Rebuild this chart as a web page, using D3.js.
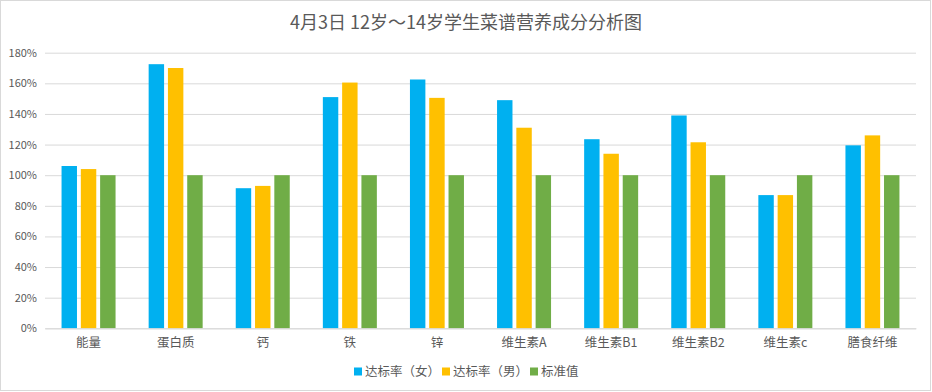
<!DOCTYPE html>
<html><head><meta charset="utf-8">
<script src="https://cdn.jsdelivr.net/npm/d3@7"></script>
<style>body{margin:0;background:#fff}svg{display:block}text{font-family:"Noto Sans CJK SC","Noto Sans",sans-serif}</style>
</head><body><svg id="c" width="932" height="392"></svg>
<script>
const categories = ["能量","蛋白质","钙","铁","锌","维生素A","维生素B1","维生素B2","维生素c","膳食纤维"];
const seriesNames = ["达标率（女）","达标率（男）","标准值"];
const female = [106,172.5,91.5,151,162.5,149,123.5,139,87,119.5];
const male = [104,170,93,160.5,150.5,131,114,121.5,87,126];
const standard = [100,100,100,100,100,100,100,100,100,100];
const yTicks = [0,20,40,60,80,100,120,140,160,180];
const colors = ["#00b0f0","#ffc000","#70ad47"];

const svg = d3.select("#c");
svg.append("rect").attr("x",0.5).attr("y",0.5).attr("width",930).attr("height",390)
  .attr("fill","#fff").attr("stroke","#d9d9d9");

svg.append("text").attr("x",466).attr("y",29).attr("text-anchor","middle")
  .attr("font-size",18).attr("fill","#595959").text("4月3日 12岁～14岁学生菜谱营养成分分析图");

const y = d3.scaleLinear().domain([0,180]).range([328.3,52.7]);
const x = d3.scaleBand().domain(categories).range([45,916]).paddingInner(0.38).paddingOuter(0.19);
const xs = d3.scaleBand().domain(seriesNames).range([0,x.bandwidth()]).paddingInner(0.2);

const yAxis = d3.axisLeft(y).tickValues(yTicks).tickSize(-(916-45)).tickFormat(d=>d+"%");
const gy = svg.append("g").attr("transform","translate(45,0)").call(yAxis);
gy.select(".domain").remove();
gy.selectAll(".tick line").attr("stroke","#d9d9d9");
gy.selectAll(".tick text").attr("x",-8).attr("fill","#595959").attr("font-size",11);

const data = [female, male, standard];
const g = svg.append("g");
categories.forEach((c,i)=>{
  seriesNames.forEach((s,j)=>{
    const v = data[j][i];
    g.append("rect").attr("x",x(c)+xs(s)).attr("y",y(v)).attr("width",xs.bandwidth())
      .attr("height",y(0)-y(v)).attr("fill",colors[j]);
  });
});

const xAxis = d3.axisBottom(x).tickSize(0);
const gx = svg.append("g").attr("transform","translate(0,328.3)").call(xAxis);
gx.select(".domain").attr("stroke","#d9d9d9");
gx.selectAll(".tick text").attr("y",10).attr("fill","#595959").attr("font-size",12.5);

const legendX = [354,442,530];
const lg = svg.append("g");
seriesNames.forEach((s,j)=>{
  lg.append("rect").attr("x",legendX[j]).attr("y",367.5).attr("width",8).attr("height",8).attr("fill",colors[j]);
  lg.append("text").attr("x",legendX[j]+11).attr("y",376).attr("font-size",12.5).attr("fill","#595959").text(s);
});
</script></body></html>
